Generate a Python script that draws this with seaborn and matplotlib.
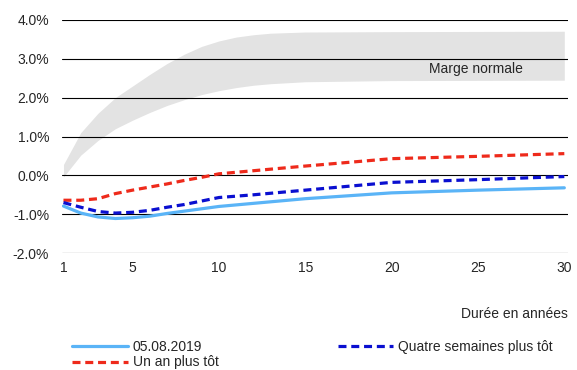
import numpy as np
import matplotlib as mpl
import matplotlib.pyplot as plt
import seaborn as sns
import pandas as pd

mpl.use('Agg')

# Data
years = [1, 2, 3, 4, 5, 6, 7, 8, 9, 10, 12, 15, 20, 25, 30]
current = [-0.79, -0.97, -1.07, -1.11, -1.09, -1.05, -0.98, -0.92, -0.86, -0.80, -0.72, -0.60, -0.45, -0.38, -0.32]
four_weeks = [-0.70, -0.82, -0.93, -0.97, -0.95, -0.90, -0.82, -0.75, -0.66, -0.57, -0.50, -0.38, -0.18, -0.11, -0.03]
one_year = [-0.64, -0.64, -0.60, -0.47, -0.38, -0.30, -0.22, -0.13, -0.05, 0.04, 0.12, 0.24, 0.43, 0.49, 0.56]

band_years = [1, 2, 3, 4, 5, 6, 7, 8, 9, 10, 11, 12, 13, 15, 20, 30]
band_upper = [0.28, 1.10, 1.60, 2.00, 2.30, 2.60, 2.88, 3.12, 3.32, 3.46, 3.56, 3.62, 3.66, 3.69, 3.70, 3.71]
band_lower = [-0.04, 0.52, 0.90, 1.20, 1.42, 1.62, 1.80, 1.95, 2.08, 2.18, 2.26, 2.32, 2.36, 2.41, 2.44, 2.45]

labels = ['05.08.2019', 'Un an plus tôt', 'Quatre semaines plus tôt']
colors = ['#5ab4f7', '#ee2a1b', '#0a0fd0']
series = [current, one_year, four_weeks]
styles = ['-', '--', '--']

sns.set_style('white')
plt.rcParams['font.family'] = ['Liberation Sans', 'DejaVu Sans']
plt.rcParams['font.size'] = 10

fig = plt.figure(figsize=(5.77, 3.7), dpi=100)
ax = fig.add_axes([0.107, 0.316, 0.877, 0.63])

ax.fill_between(band_years, band_lower, band_upper, color='#e3e3e3', lw=0, zorder=0)
ax.text(24.9, 2.75, 'Marge normale', ha='center', va='center', fontsize=10)

for vals, lab, col, ls in zip(series, labels, colors, styles):
    df = pd.DataFrame({'x': years, 'y': vals})
    sns.lineplot(data=df, x='x', y='y', ax=ax, color=col, lw=2.3, label=lab,
                 linestyle=ls, zorder=3)
    if ls == '--':
        ax.lines[-1].set_dashes((2.5, 1.5))

ax.set_ylim(-2.0, 4.0)
ax.set_xlim(0.9, 30.2)
ticks = np.arange(-2, 4.01, 1)
ax.set_yticks(ticks)
ax.set_yticklabels([f'{v:.1f}%' for v in ticks])
ax.set_xticks([1, 5, 10, 15, 20, 25, 30])
ax.grid(axis='y', color='black', lw=0.8)
ax.set_axisbelow(False)
for s in ax.spines.values():
    s.set_visible(False)
ax.tick_params(axis='y', length=0, pad=9, labelsize=10)
ax.tick_params(axis='x', length=0, pad=6, labelsize=10)
ax.set_ylabel('')
ax.set_xlabel('')
fig.text(0.984, 1 - 314 / 370, 'Durée en années', ha='right', va='center', fontsize=10)

leg = ax.legend(loc='upper left', bbox_to_anchor=(0.125, 1 - 340 / 370),
                bbox_transform=fig.transFigure, ncol=2, frameon=False,
                fontsize=10, handlelength=4.0, columnspacing=8.6, handletextpad=0.35,
                labelspacing=0.1, borderaxespad=0, borderpad=0)
for h in leg.get_lines():
    h.set_linewidth(2.3)

plt.savefig('out.png', dpi=100)
